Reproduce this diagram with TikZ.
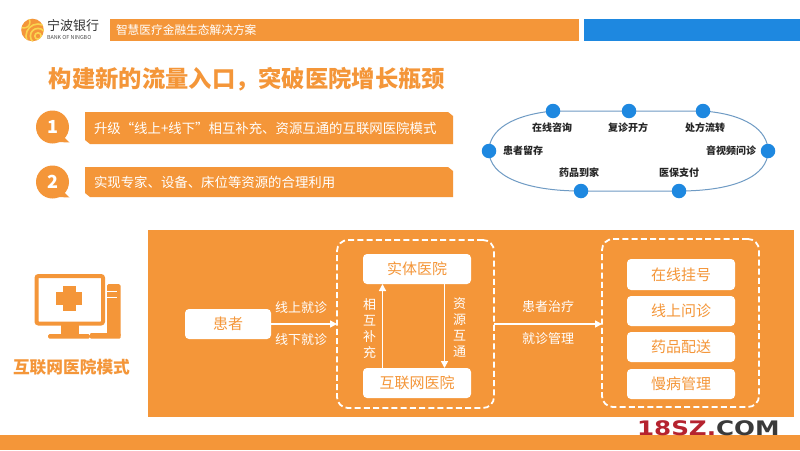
\documentclass[tikz,border=0pt]{standalone}
\usepackage{fontspec}
\setmainfont{Noto Sans CJK SC}
\newfontfamily\latinbold{DejaVu Sans}
\usetikzlibrary{arrows.meta,calc}
\definecolor{org}{HTML}{F49639}
\definecolor{blu}{HTML}{1E88E0}
\definecolor{ovl}{HTML}{6F9BC4}
\definecolor{yel}{HTML}{FAD44F}
\tikzset{
  every node/.style={inner sep=0pt,outer sep=0pt},
  whitebox/.style={fill=white,rounded corners=4pt,text=org,font=\fontsize{15}{17}\selectfont,minimum width=108pt,minimum height=30pt},
  dashbox/.style={draw=white,line width=1.8pt,dash pattern=on 6pt off 3.2pt,rounded corners=11pt},
  flowarrow/.style={draw=white,line width=1.5pt,-{Triangle[length=7pt,width=7pt]}},
  wlabel/.style={text=white,font=\fontsize{13}{15}\selectfont},
  dot/.style={circle,fill=blu,minimum size=14.5pt},
  ringlabel/.style={font=\fontsize{10}{12}\selectfont\bfseries,text=black!85},
  barlabel/.style={anchor=west,text=white,font=\fontsize{13.4}{15}\selectfont},
  numdot/.style={circle,fill=org,minimum size=33pt,text=white,font=\fontsize{18}{20}\selectfont\bfseries}
}
\begin{document}
\begin{tikzpicture}[x=1pt,y=-1pt]
\useasboundingbox (0,0) rectangle (800,450);
\fill[white] (0,0) rectangle (800,450);
% header
\fill[org] (110,19) rectangle (579,41);
\fill[blu] (584,19) rectangle (800,41);
\node[anchor=west,text=white,font=\fontsize{11.7}{14}\selectfont] (head) at (116,30) {智慧医疗金融生态解决方案};
% logo
\fill[org] (32.5,30) circle (11.3);
\begin{scope}
\clip (32.5,30) circle (11.3);
\draw[yel,line width=1.6pt] (38,36) circle (3.2);
\draw[yel,line width=1.6pt] (38,36) circle (7.6);
\draw[yel,line width=1.6pt] (38,36) circle (12);
\draw[yel,line width=1.4pt] (24,22) circle (6);
\end{scope}
\node[anchor=west,text=black!80,font=\fontsize{13}{14}\selectfont] (bank) at (47,26) {宁波银行};
\node[anchor=west,text=black!70,font=\fontsize{5.4}{6}\selectfont] (banken) at (47,37.5) {BANK OF NINGBO};
% title
\node[anchor=center,text=org,font=\fontsize{23.3}{26}\selectfont\bfseries] (title) at (247,79) {构建新的流量入口，突破医院增长瓶颈};
% numbered bars
\fill[org] (85,112) -- (448,112) -- (453,116) -- (453,144) -- (90,144) -- (85,140) -- cycle;
\fill[org] (85,167) -- (448,167) -- (453,171) -- (453,197) -- (90,197) -- (85,193) -- cycle;
\node[barlabel] (t1) at (94,128.5) {升级“线上+线下”相互补充、资源互通的互联网医院模式};
\node[barlabel] (t2) at (94,182.5) {实现专家、设备、床位等资源的合理利用};
\fill[org] (62,135) -- (69.5,142.5) -- (58,142) -- cycle;
\fill[org] (62,190) -- (69.5,197.5) -- (58,197) -- cycle;
\node[numdot] (n1) at (52.5,127) {1};
\node[numdot] (n2) at (52.5,182) {2};
% ring
\coordinate (c1) at (553,111);
\coordinate (c3) at (703,111);
\coordinate (c4) at (768,151);
\coordinate (c5) at (679,191);
\coordinate (c6) at (581,191);
\coordinate (c7) at (489,151);
\draw[ovl,line width=1pt] (c1) -- (c3) .. controls (745,114) and (768,130) .. (c4)
  .. controls (768,176) and (735,191) .. (c5) -- (c6)
  .. controls (525,191) and (489,176) .. (c7)
  .. controls (489,130) and (512,115) .. (c1);
\node[dot] (d1) at (c1) {};
\node[dot] (d2) at (629,111) {};
\node[dot] (d3) at (c3) {};
\node[dot] (d4) at (c4) {};
\node[dot] (d5) at (c5) {};
\node[dot] (d6) at (c6) {};
\node[dot] (d7) at (c7) {};
\node[ringlabel] (r1) at (552,127.5) {在线咨询};
\node[ringlabel] (r2) at (628,127.5) {复诊开方};
\node[ringlabel] (r3) at (705,127.5) {处方流转};
\node[ringlabel] (r4) at (731,151) {音视频问诊};
\node[ringlabel] (r5) at (679,173) {医保支付};
\node[ringlabel] (r6) at (579,173) {药品到家};
\node[ringlabel] (r7) at (523,151) {患者留存};
% panel
\fill[org] (148,230) rectangle (794,417);
\fill[org] (0,435) rectangle (800,450);
% icon
\fill[org,rounded corners=1.5pt] (107,284) rectangle (120.5,337);
\draw[white,line width=1pt] (107,291.5) -- (117,291.5);
\draw[white,line width=1pt] (107,297) -- (117,297);
\fill[white] (84,330) rectangle (106,337.5);
\fill[org,rounded corners=1pt] (90,333) rectangle (120.5,338.5);
\fill[white] (105,273) rectangle (107,328);
\draw[org,line width=4pt,rounded corners=2pt] (36.5,276) rectangle (103,323.5);
\fill[org] (61,325) rectangle (79,334);
\fill[org,rounded corners=1.5pt] (48,334) rectangle (90,338.5);
\fill[org] (62.5,286) rectangle (75.5,311);
\fill[org] (56,292) rectangle (81.5,305);
\node[text=org,font=\fontsize{16.7}{19}\selectfont\bfseries] (mode) at (71.5,367) {互联网医院模式};
% flow
\node[whitebox,minimum width=86pt] (pat) at (228,324) {患者};
\node[dashbox,minimum width=157pt,minimum height=168pt] (hosp) at (415.5,324) {};
\node[whitebox] (real) at (417,269) {实体医院};
\node[whitebox] (net) at (417,383) {互联网医院};
\node[dashbox,minimum width=157pt,minimum height=168pt] (serv) at (680.5,323) {};
\node[whitebox,minimum height=31pt] (s1) at (681,274.5) {在线挂号};
\node[whitebox] (s2) at (681,311) {线上问诊};
\node[whitebox] (s3) at (681,347) {药品配送};
\node[whitebox] (s4) at (681,384) {慢病管理};
\draw[flowarrow] (pat.east) -- (hosp.west);
\draw[flowarrow] (hosp.east) -- (serv.west |- hosp.east);
\draw[flowarrow] ([xshift=-34.5pt]net.north) -- ([xshift=-34.5pt]real.south);
\draw[flowarrow] ([xshift=27.5pt]real.south) -- ([xshift=27.5pt]net.north);
\node[wlabel] (a1) at (301,308) {线上就诊};
\node[wlabel] (a2) at (301,340) {线下就诊};
\node[wlabel] (a3) at (548,307) {患者治疗};
\node[wlabel] (a4) at (548,339) {就诊管理};
\node[wlabel,align=center,font=\fontsize{13}{16}\selectfont] (v1) at (369.5,329) {相\\互\\补\\充};
\node[wlabel,align=center,font=\fontsize{13}{16}\selectfont] (v2) at (459.5,328) {资\\源\\互\\通};
% watermark
\node[anchor=west,font=\latinbold\fontsize{20}{22}\selectfont\bfseries] (wm) at (637,428) {\scalebox{1.23}[1]{\textcolor[HTML]{B5232F}{18SZ.}\textcolor[HTML]{3A3A3A}{COM}}};
\end{tikzpicture}
\end{document}
